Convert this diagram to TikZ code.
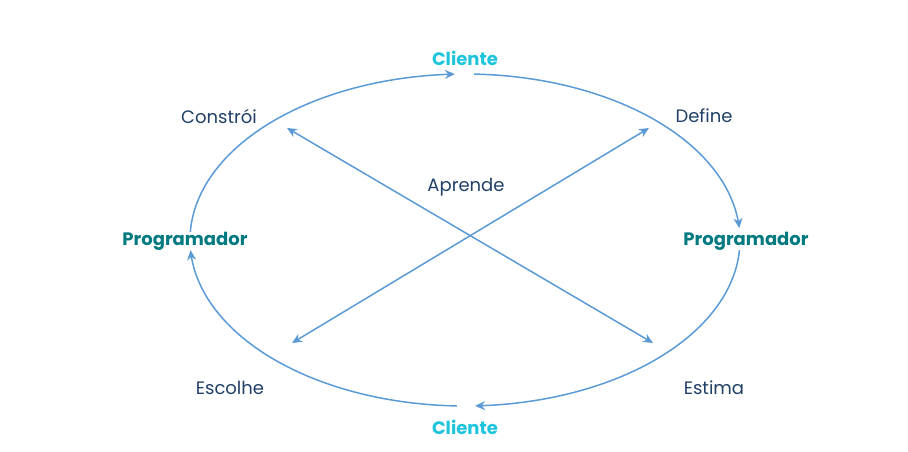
\documentclass[tikz,border=0pt]{standalone}
\usepackage{fontspec}
\setmainfont{Poppins}
\usetikzlibrary{arrows.meta}
\definecolor{linec}{HTML}{5B9BD5}
\definecolor{cli}{HTML}{1EC3DC}
\definecolor{prog}{HTML}{007A80}
\definecolor{lab}{HTML}{1F3F66}
\begin{document}
\begin{tikzpicture}[x=1pt,y=-1pt,
  conn/.style={draw=linec,line width=1.5pt,-{Stealth[length=10pt,width=9pt]}},
  dconn/.style={draw=linec,line width=1.5pt,{Stealth[length=10pt,width=9pt]}-{Stealth[length=10pt,width=9pt]}},
  clin/.style={text=cli,font=\fontsize{18}{21}\selectfont\bfseries,inner sep=0pt},
  progn/.style={text=prog,font=\fontsize{18}{21}\selectfont\bfseries,inner sep=0pt},
  labn/.style={text=lab,font=\fontsize{18}{21}\selectfont,inner sep=0pt}]
\useasboundingbox (0,0) rectangle (908,452);
\node[clin] (ctop) at (465,58) {Cliente};
\node[clin] (cbot) at (465,427) {Cliente};
\node[progn] (pleft) at (185,241) {Programador};
\node[progn] (pright) at (746,241) {Programador};
\node[labn] (constroi) at (219,116) {Constrói};
\node[labn] (define) at (704,116) {Define};
\node[labn] (aprende) at (466,187) {Aprende};
\node[labn] (escolhe) at (230,388) {Escolhe};
\node[labn] (estima) at (714,388) {Estima};
% ellipse arcs: center (465,240), a=275, b=166
\draw[conn] plot[domain=177.2:92.1,samples=80,smooth] ({465+275*cos(\x)},{240-166*sin(\x)});
\draw[conn] plot[domain=88.1:4.1,samples=80,smooth] ({465+275*cos(\x)},{240-166*sin(\x)});
\draw[conn] plot[domain=-3.5:-87.9,samples=80,smooth] ({465+275*cos(\x)},{240-166*sin(\x)});
\draw[conn] plot[domain=268.3:183.5,samples=80,smooth] ({465+275*cos(\x)},{240-166*sin(\x)});
% cross
\coordinate (ctl) at (287,128);
\coordinate (cbr) at (653,343);
\coordinate (ctr) at (649,128);
\coordinate (cbl) at (292,343);
\draw[dconn] (ctl) -- (cbr);
\draw[dconn] (ctr) -- (cbl);
\end{tikzpicture}
\end{document}
